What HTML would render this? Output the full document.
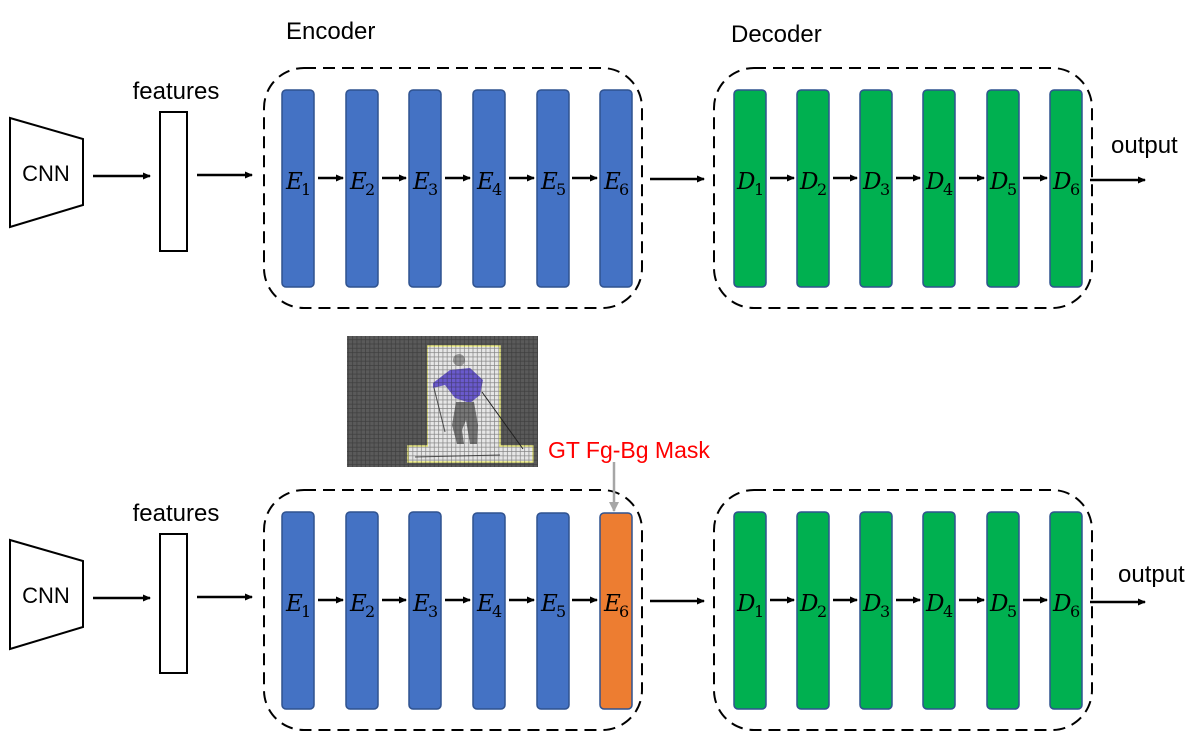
<!DOCTYPE html>
<html><head><meta charset="utf-8"><style>
html,body{margin:0;padding:0;background:#fff;}
svg{display:block;}
.t{font-family:"Liberation Sans",sans-serif;}
.m{font-family:"DejaVu Serif","Liberation Serif",serif;font-style:italic;font-size:23px;}
.s{font-family:"DejaVu Serif","Liberation Serif",serif;font-size:16px;}
</style></head><body>
<svg width="1202" height="746" viewBox="0 0 1202 746" xmlns="http://www.w3.org/2000/svg">
<defs>
<marker id="ah" markerWidth="8" markerHeight="8" refX="7" refY="4" orient="auto" markerUnits="userSpaceOnUse"><path d="M0,0.5 L8,4 L0,7.5 z" fill="#000"/></marker>
<marker id="ahg" markerWidth="10" markerHeight="10" refX="9" refY="5" orient="auto" markerUnits="userSpaceOnUse"><path d="M0,0 L10,5 L0,10 z" fill="#a6a6a6"/></marker>
<pattern id="grid" width="4.3" height="4.3" patternUnits="userSpaceOnUse"><rect width="4.3" height="4.3" fill="none" stroke="#222" stroke-width="0.7"/></pattern>
</defs>

<!-- ================= TOP ROW ================= -->
<g>
<polygon points="10,118 83,139 83,205 10,227" fill="#fff" stroke="#000" stroke-width="2"/>
<text class="t" x="46" y="181" font-size="22" text-anchor="middle">CNN</text>
<line x1="93" y1="176" x2="150" y2="176" stroke="#000" stroke-width="2.5" marker-end="url(#ah)"/>
<rect x="160" y="112" width="27" height="139" fill="#fff" stroke="#000" stroke-width="2"/>
<text class="t" x="176" y="99" font-size="24" text-anchor="middle">features</text>
<line x1="197" y1="175" x2="252" y2="175" stroke="#000" stroke-width="2.5" marker-end="url(#ah)"/>
<rect x="264" y="68" width="378" height="240" rx="40" fill="none" stroke="#000" stroke-width="2" stroke-dasharray="12,7"/>
<rect x="714" y="68" width="378" height="240" rx="40" fill="none" stroke="#000" stroke-width="2" stroke-dasharray="12,7"/>
<line x1="650" y1="179" x2="704" y2="179" stroke="#000" stroke-width="2.5" marker-end="url(#ah)"/>
<g fill="#4472c4" stroke="#2f528f" stroke-width="1.5">
<rect x="282" y="90" width="32" height="197" rx="4"/>
<rect x="346" y="90" width="32" height="197" rx="4"/>
<rect x="409" y="90" width="32" height="197" rx="4"/>
<rect x="473" y="90" width="32" height="197" rx="4"/>
<rect x="537" y="90" width="32" height="197" rx="4"/>
<rect x="600" y="90" width="32" height="197" rx="4"/>
</g>
<g fill="#00b050" stroke="#2f528f" stroke-width="1.5">
<rect x="734" y="90" width="32" height="197" rx="4"/>
<rect x="797" y="90" width="32" height="197" rx="4"/>
<rect x="860" y="90" width="32" height="197" rx="4"/>
<rect x="923" y="90" width="32" height="197" rx="4"/>
<rect x="987" y="90" width="32" height="197" rx="4"/>
<rect x="1050" y="90" width="32" height="197" rx="4"/>
</g>
<g stroke="#000" stroke-width="2.5">
<line x1="318" y1="178" x2="343" y2="178" marker-end="url(#ah)"/>
<line x1="382" y1="178" x2="406" y2="178" marker-end="url(#ah)"/>
<line x1="445" y1="178" x2="470" y2="178" marker-end="url(#ah)"/>
<line x1="509" y1="178" x2="534" y2="178" marker-end="url(#ah)"/>
<line x1="572" y1="178" x2="597" y2="178" marker-end="url(#ah)"/>
<line x1="770" y1="178" x2="794" y2="178" marker-end="url(#ah)"/>
<line x1="833" y1="178" x2="857" y2="178" marker-end="url(#ah)"/>
<line x1="896" y1="178" x2="920" y2="178" marker-end="url(#ah)"/>
<line x1="959" y1="178" x2="984" y2="178" marker-end="url(#ah)"/>
<line x1="1023" y1="178" x2="1047" y2="178" marker-end="url(#ah)"/>
</g>
<text class="m" x="286" y="189">E</text><text class="s" x="301" y="195">1</text>
<text class="m" x="350" y="189">E</text><text class="s" x="365" y="195">2</text>
<text class="m" x="413" y="189">E</text><text class="s" x="428" y="195">3</text>
<text class="m" x="477" y="189">E</text><text class="s" x="492" y="195">4</text>
<text class="m" x="541" y="189">E</text><text class="s" x="556" y="195">5</text>
<text class="m" x="604" y="189">E</text><text class="s" x="619" y="195">6</text>
<text class="m" x="737" y="189">D</text><text class="s" x="754" y="195">1</text>
<text class="m" x="800" y="189">D</text><text class="s" x="817" y="195">2</text>
<text class="m" x="863" y="189">D</text><text class="s" x="880" y="195">3</text>
<text class="m" x="926" y="189">D</text><text class="s" x="943" y="195">4</text>
<text class="m" x="990" y="189">D</text><text class="s" x="1007" y="195">5</text>
<text class="m" x="1053" y="189">D</text><text class="s" x="1070" y="195">6</text>
<line x1="1090" y1="180" x2="1145" y2="180" stroke="#000" stroke-width="2.5" marker-end="url(#ah)"/>
</g>
<text class="t" x="286" y="39" font-size="24">Encoder</text>
<text class="t" x="731" y="42" font-size="24">Decoder</text>
<text class="t" x="1111" y="153" font-size="24">output</text>

<!-- ================= BOTTOM ROW ================= -->
<g transform="translate(0,422)">
<polygon points="10,118 83,139 83,205 10,227" fill="#fff" stroke="#000" stroke-width="2"/>
<text class="t" x="46" y="181" font-size="22" text-anchor="middle">CNN</text>
<line x1="93" y1="176" x2="150" y2="176" stroke="#000" stroke-width="2.5" marker-end="url(#ah)"/>
<rect x="160" y="112" width="27" height="139" fill="#fff" stroke="#000" stroke-width="2"/>
<text class="t" x="176" y="99" font-size="24" text-anchor="middle">features</text>
<line x1="197" y1="175" x2="252" y2="175" stroke="#000" stroke-width="2.5" marker-end="url(#ah)"/>
<rect x="264" y="68" width="378" height="240" rx="40" fill="none" stroke="#000" stroke-width="2" stroke-dasharray="12,7"/>
<rect x="714" y="68" width="378" height="240" rx="40" fill="none" stroke="#000" stroke-width="2" stroke-dasharray="12,7"/>
<line x1="650" y1="179" x2="704" y2="179" stroke="#000" stroke-width="2.5" marker-end="url(#ah)"/>
<g fill="#4472c4" stroke="#2f528f" stroke-width="1.5">
<rect x="282" y="90" width="32" height="197" rx="4"/>
<rect x="346" y="90" width="32" height="197" rx="4"/>
<rect x="409" y="90" width="32" height="197" rx="4"/>
<rect x="473" y="91" width="32" height="196" rx="4"/>
<rect x="537" y="91" width="32" height="196" rx="4"/>
<rect x="600" y="91" width="32" height="196" rx="4" fill="#ed7d31"/>
</g>
<g fill="#00b050" stroke="#2f528f" stroke-width="1.5">
<rect x="734" y="90" width="32" height="197" rx="4"/>
<rect x="797" y="90" width="32" height="197" rx="4"/>
<rect x="860" y="90" width="32" height="197" rx="4"/>
<rect x="923" y="90" width="32" height="197" rx="4"/>
<rect x="987" y="90" width="32" height="197" rx="4"/>
<rect x="1050" y="90" width="32" height="197" rx="4"/>
</g>
<g stroke="#000" stroke-width="2.5">
<line x1="318" y1="178" x2="343" y2="178" marker-end="url(#ah)"/>
<line x1="382" y1="178" x2="406" y2="178" marker-end="url(#ah)"/>
<line x1="445" y1="178" x2="470" y2="178" marker-end="url(#ah)"/>
<line x1="509" y1="178" x2="534" y2="178" marker-end="url(#ah)"/>
<line x1="572" y1="178" x2="597" y2="178" marker-end="url(#ah)"/>
<line x1="770" y1="178" x2="794" y2="178" marker-end="url(#ah)"/>
<line x1="833" y1="178" x2="857" y2="178" marker-end="url(#ah)"/>
<line x1="896" y1="178" x2="920" y2="178" marker-end="url(#ah)"/>
<line x1="959" y1="178" x2="984" y2="178" marker-end="url(#ah)"/>
<line x1="1023" y1="178" x2="1047" y2="178" marker-end="url(#ah)"/>
</g>
<text class="m" x="286" y="189">E</text><text class="s" x="301" y="195">1</text>
<text class="m" x="350" y="189">E</text><text class="s" x="365" y="195">2</text>
<text class="m" x="413" y="189">E</text><text class="s" x="428" y="195">3</text>
<text class="m" x="477" y="189">E</text><text class="s" x="492" y="195">4</text>
<text class="m" x="541" y="189">E</text><text class="s" x="556" y="195">5</text>
<text class="m" x="604" y="189">E</text><text class="s" x="619" y="195">6</text>
<text class="m" x="737" y="189">D</text><text class="s" x="754" y="195">1</text>
<text class="m" x="800" y="189">D</text><text class="s" x="817" y="195">2</text>
<text class="m" x="863" y="189">D</text><text class="s" x="880" y="195">3</text>
<text class="m" x="926" y="189">D</text><text class="s" x="943" y="195">4</text>
<text class="m" x="990" y="189">D</text><text class="s" x="1007" y="195">5</text>
<text class="m" x="1053" y="189">D</text><text class="s" x="1070" y="195">6</text>
<line x1="1090" y1="180" x2="1145" y2="180" stroke="#000" stroke-width="2.5" marker-end="url(#ah)"/>
</g>
<text class="t" x="1118" y="582" font-size="24">output</text>

<!-- image -->
<rect x="347" y="336" width="191" height="131" fill="#5a5a5a"/>
<rect x="428" y="346" width="72" height="102" fill="#e6e6e6" stroke="#f0f080" stroke-width="1.5"/>
<rect x="408" y="446" width="125" height="16" fill="#e6e6e6" stroke="#f0f080" stroke-width="1.5"/>
<rect x="428" y="347" width="71" height="100" fill="#e6e6e6"/>
<path d="M450,370 L470,368 L483,380 L480,395 L470,403 L455,398 L445,385 L433,388 L433,383 Z" fill="#6a5acd"/>
<circle cx="459" cy="360" r="6" fill="#999"/>
<path d="M456,402 L474,402 L478,425 L477,444 L470,444 L466,420 L462,430 L464,444 L457,444 L452,425 Z" fill="#777"/>
<line x1="434" y1="388" x2="445" y2="432" stroke="#555" stroke-width="1"/>
<line x1="482" y1="392" x2="523" y2="449" stroke="#222" stroke-width="1"/>
<line x1="415" y1="457" x2="500" y2="455" stroke="#555" stroke-width="1"/>
<rect x="347" y="336" width="191" height="131" fill="url(#grid)" opacity="0.5"/>
<text class="t" x="548" y="458" font-size="23" fill="#ff0000">GT Fg-Bg Mask</text>
<line x1="614" y1="462" x2="614" y2="511" stroke="#a6a6a6" stroke-width="2.5" marker-end="url(#ahg)"/>
</svg>
</body></html>
